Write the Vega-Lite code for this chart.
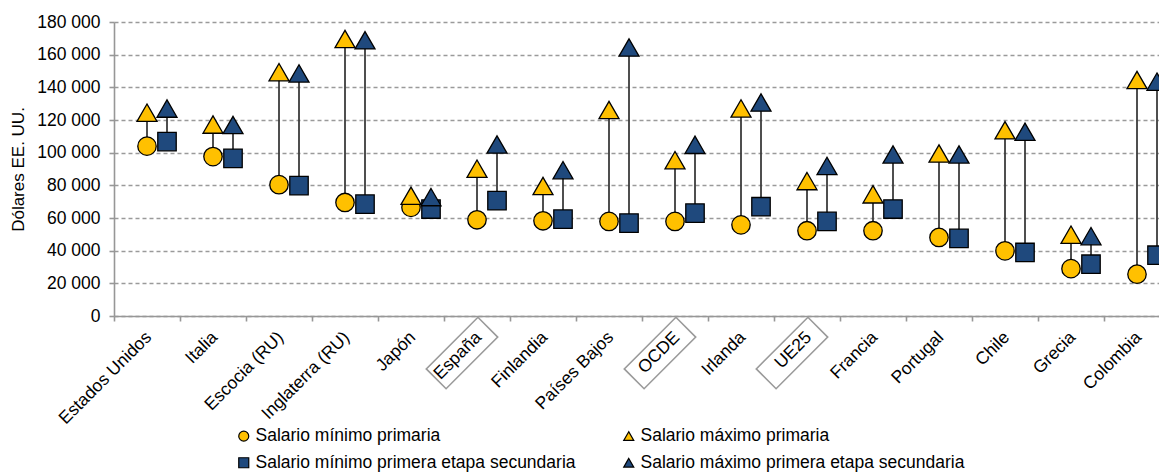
{
  "$schema": "https://vega.github.io/schema/vega-lite/v6.json",
  "width": 1045,
  "height": 294,
  "autosize": "none",
  "padding": {"left": 114, "top": 22, "right": 0, "bottom": 157},
  "config": {
    "locale": {"number": {"decimal": ",", "thousands": " ", "grouping": [3], "currency": ["", ""]}},
    "font": "Liberation Sans",
    "view": {"stroke": null},
    "axis": {
      "labelFont": "Liberation Sans",
      "titleFont": "Liberation Sans",
      "labelColor": "#000000",
      "titleColor": "#000000",
      "labelFontSize": 17.5,
      "titleFontSize": 17,
      "titleFontWeight": "normal",
      "domainColor": "#979797",
      "domainWidth": 1.6,
      "tickColor": "#979797",
      "tickWidth": 1.6,
      "tickSize": 5,
      "gridColor": "#9a9a9a",
      "gridWidth": 1.4,
      "gridDash": [4, 3],
      "gridOpacity": 1
    },
    "legend": {
      "labelFont": "Liberation Sans",
      "labelFontSize": 17.5,
      "labelColor": "#000000",
      "labelLimit": 0,
      "symbolStrokeColor": "#000000",
      "symbolStrokeWidth": 1.2
    }
  },
  "data": {
    "values": [
      {"pais": "Estados Unidos", "nivel": "primaria", "serie": "Salario mínimo primaria", "valor": 104000},
      {"pais": "Estados Unidos", "nivel": "primaria", "serie": "Salario máximo primaria", "valor": 124500},
      {"pais": "Estados Unidos", "nivel": "secundaria", "serie": "Salario mínimo primera etapa secundaria", "valor": 106800},
      {"pais": "Estados Unidos", "nivel": "secundaria", "serie": "Salario máximo primera etapa secundaria", "valor": 127000},
      {"pais": "Italia", "nivel": "primaria", "serie": "Salario mínimo primaria", "valor": 97600},
      {"pais": "Italia", "nivel": "primaria", "serie": "Salario máximo primaria", "valor": 117200},
      {"pais": "Italia", "nivel": "secundaria", "serie": "Salario mínimo primera etapa secundaria", "valor": 96500},
      {"pais": "Italia", "nivel": "secundaria", "serie": "Salario máximo primera etapa secundaria", "valor": 116900},
      {"pais": "Escocia (RU)", "nivel": "primaria", "serie": "Salario mínimo primaria", "valor": 80400},
      {"pais": "Escocia (RU)", "nivel": "primaria", "serie": "Salario máximo primaria", "valor": 149300},
      {"pais": "Escocia (RU)", "nivel": "secundaria", "serie": "Salario mínimo primera etapa secundaria", "valor": 79800},
      {"pais": "Escocia (RU)", "nivel": "secundaria", "serie": "Salario máximo primera etapa secundaria", "valor": 148500},
      {"pais": "Inglaterra (RU)", "nivel": "primaria", "serie": "Salario mínimo primaria", "valor": 69500},
      {"pais": "Inglaterra (RU)", "nivel": "primaria", "serie": "Salario máximo primaria", "valor": 169600},
      {"pais": "Inglaterra (RU)", "nivel": "secundaria", "serie": "Salario mínimo primera etapa secundaria", "valor": 68500},
      {"pais": "Inglaterra (RU)", "nivel": "secundaria", "serie": "Salario máximo primera etapa secundaria", "valor": 168800},
      {"pais": "Japón", "nivel": "primaria", "serie": "Salario mínimo primaria", "valor": 66500},
      {"pais": "Japón", "nivel": "primaria", "serie": "Salario máximo primaria", "valor": 73600},
      {"pais": "Japón", "nivel": "secundaria", "serie": "Salario mínimo primera etapa secundaria", "valor": 65500},
      {"pais": "Japón", "nivel": "secundaria", "serie": "Salario máximo primera etapa secundaria", "valor": 72800},
      {"pais": "España", "nivel": "primaria", "serie": "Salario mínimo primaria", "valor": 58900},
      {"pais": "España", "nivel": "primaria", "serie": "Salario máximo primaria", "valor": 90200},
      {"pais": "España", "nivel": "secundaria", "serie": "Salario mínimo primera etapa secundaria", "valor": 70600},
      {"pais": "España", "nivel": "secundaria", "serie": "Salario máximo primera etapa secundaria", "valor": 105000},
      {"pais": "Finlandia", "nivel": "primaria", "serie": "Salario mínimo primaria", "valor": 58300},
      {"pais": "Finlandia", "nivel": "primaria", "serie": "Salario máximo primaria", "valor": 79600},
      {"pais": "Finlandia", "nivel": "secundaria", "serie": "Salario mínimo primera etapa secundaria", "valor": 59300},
      {"pais": "Finlandia", "nivel": "secundaria", "serie": "Salario máximo primera etapa secundaria", "valor": 89300},
      {"pais": "Países Bajos", "nivel": "primaria", "serie": "Salario mínimo primaria", "valor": 57900},
      {"pais": "Países Bajos", "nivel": "primaria", "serie": "Salario máximo primaria", "valor": 126100},
      {"pais": "Países Bajos", "nivel": "secundaria", "serie": "Salario mínimo primera etapa secundaria", "valor": 56900},
      {"pais": "Países Bajos", "nivel": "secundaria", "serie": "Salario máximo primera etapa secundaria", "valor": 164400},
      {"pais": "OCDE", "nivel": "primaria", "serie": "Salario mínimo primaria", "valor": 57900},
      {"pais": "OCDE", "nivel": "primaria", "serie": "Salario máximo primaria", "valor": 95400},
      {"pais": "OCDE", "nivel": "secundaria", "serie": "Salario mínimo primera etapa secundaria", "valor": 63000},
      {"pais": "OCDE", "nivel": "secundaria", "serie": "Salario máximo primera etapa secundaria", "valor": 104800},
      {"pais": "Irlanda", "nivel": "primaria", "serie": "Salario mínimo primaria", "valor": 55800},
      {"pais": "Irlanda", "nivel": "primaria", "serie": "Salario máximo primaria", "valor": 127100},
      {"pais": "Irlanda", "nivel": "secundaria", "serie": "Salario mínimo primera etapa secundaria", "valor": 66900},
      {"pais": "Irlanda", "nivel": "secundaria", "serie": "Salario máximo primera etapa secundaria", "valor": 130700},
      {"pais": "UE25", "nivel": "primaria", "serie": "Salario mínimo primaria", "valor": 52200},
      {"pais": "UE25", "nivel": "primaria", "serie": "Salario máximo primaria", "valor": 82600},
      {"pais": "UE25", "nivel": "secundaria", "serie": "Salario mínimo primera etapa secundaria", "valor": 57900},
      {"pais": "UE25", "nivel": "secundaria", "serie": "Salario máximo primera etapa secundaria", "valor": 91900},
      {"pais": "Francia", "nivel": "primaria", "serie": "Salario mínimo primaria", "valor": 52200},
      {"pais": "Francia", "nivel": "primaria", "serie": "Salario máximo primaria", "valor": 74500},
      {"pais": "Francia", "nivel": "secundaria", "serie": "Salario mínimo primera etapa secundaria", "valor": 65500},
      {"pais": "Francia", "nivel": "secundaria", "serie": "Salario máximo primera etapa secundaria", "valor": 98900},
      {"pais": "Portugal", "nivel": "primaria", "serie": "Salario mínimo primaria", "valor": 48100},
      {"pais": "Portugal", "nivel": "primaria", "serie": "Salario máximo primaria", "valor": 99500},
      {"pais": "Portugal", "nivel": "secundaria", "serie": "Salario mínimo primera etapa secundaria", "valor": 47500},
      {"pais": "Portugal", "nivel": "secundaria", "serie": "Salario máximo primera etapa secundaria", "valor": 98900},
      {"pais": "Chile", "nivel": "primaria", "serie": "Salario mínimo primaria", "valor": 39900},
      {"pais": "Chile", "nivel": "primaria", "serie": "Salario máximo primaria", "valor": 113700},
      {"pais": "Chile", "nivel": "secundaria", "serie": "Salario mínimo primera etapa secundaria", "valor": 38900},
      {"pais": "Chile", "nivel": "secundaria", "serie": "Salario máximo primera etapa secundaria", "valor": 112800},
      {"pais": "Grecia", "nivel": "primaria", "serie": "Salario mínimo primaria", "valor": 29000},
      {"pais": "Grecia", "nivel": "primaria", "serie": "Salario máximo primaria", "valor": 49800},
      {"pais": "Grecia", "nivel": "secundaria", "serie": "Salario mínimo primera etapa secundaria", "valor": 31700},
      {"pais": "Grecia", "nivel": "secundaria", "serie": "Salario máximo primera etapa secundaria", "valor": 48900},
      {"pais": "Colombia", "nivel": "primaria", "serie": "Salario mínimo primaria", "valor": 25600},
      {"pais": "Colombia", "nivel": "primaria", "serie": "Salario máximo primaria", "valor": 144500},
      {"pais": "Colombia", "nivel": "secundaria", "serie": "Salario mínimo primera etapa secundaria", "valor": 37200},
      {"pais": "Colombia", "nivel": "secundaria", "serie": "Salario máximo primera etapa secundaria", "valor": 143500}
    ]
  },
  "encoding": {
    "x": {
      "field": "pais",
      "type": "nominal",
      "sort": null,
      "scale": {"range": [0, 1056], "paddingInner": 0, "paddingOuter": 0},
      "axis": {
        "title": null,
        "labelAngle": -45,
        "tickBand": "extent",
        "labelPadding": 7,
        "labelOffset": -5,
        "labelOverlap": false
      }
    },
    "y": {
      "field": "valor",
      "type": "quantitative",
      "scale": {"domain": [0, 180000], "nice": false, "zero": true},
      "axis": {
        "title": "Dólares EE. UU.",
        "values": [0, 20000, 40000, 60000, 80000, 100000, 120000, 140000, 160000, 180000],
        "tickCount": 12,
        "format": ",d",
        "labelOverlap": false,
        "titlePadding": 9,
        "labelPadding": 9
      }
    }
  },
  "layer": [
    {
      "mark": {"type": "rule", "color": "#3c3c3c", "strokeWidth": 1.8},
      "encoding": {
        "xOffset": {"field": "nivel", "type": "nominal", "scale": {"type": "point", "padding": 0, "domain": ["primaria", "secundaria"], "range": [33, 53]}},
        "y": {"aggregate": "min", "field": "valor", "type": "quantitative"},
        "y2": {"aggregate": "max", "field": "valor"}
      }
    },
    {
      "transform": [{"filter": {"field": "serie", "oneOf": ["Salario mínimo primaria", "Salario mínimo primera etapa secundaria"]}}],
      "mark": {"type": "point", "filled": true, "stroke": "#000000", "strokeWidth": 1.3, "opacity": 1, "size": 340},
      "encoding": {
        "xOffset": {"field": "nivel", "type": "nominal"},
        "color": {
          "field": "serie",
          "type": "nominal",
          "scale": {
            "domain": ["Salario mínimo primaria", "Salario máximo primaria", "Salario mínimo primera etapa secundaria", "Salario máximo primera etapa secundaria"],
            "range": ["#FFC000", "#FFC000", "#1F497D", "#1F497D"]
          },
          "legend": {
            "title": null,
            "orient": "none",
            "direction": "horizontal",
            "columns": 2,
            "columnPadding": 44,
            "rowPadding": 8,
            "legendX": 121,
            "legendY": 405,
            "symbolSize": 100,
            "labelOffset": 3
          }
        },
        "shape": {
          "field": "serie",
          "type": "nominal",
          "scale": {
            "domain": ["Salario mínimo primaria", "Salario máximo primaria", "Salario mínimo primera etapa secundaria", "Salario máximo primera etapa secundaria"],
            "range": ["circle", "triangle-up", "square", "triangle-up"]
          }
        }
      }
    },
    {
      "transform": [{"filter": {"field": "serie", "oneOf": ["Salario máximo primaria", "Salario máximo primera etapa secundaria"]}}],
      "mark": {"type": "point", "filled": true, "stroke": "#000000", "strokeWidth": 1.3, "opacity": 1, "size": 400},
      "encoding": {
        "xOffset": {"field": "nivel", "type": "nominal"},
        "color": {"field": "serie", "type": "nominal"},
        "shape": {"field": "serie", "type": "nominal"}
      }
    },
    {
      "transform": [{"filter": {"field": "serie", "equal": "Salario mínimo primaria"}}, {"filter": {"field": "pais", "oneOf": ["España", "OCDE", "UE25"]}}],
      "mark": {
        "type": "point",
        "shape": "M0.893,-0.398L0.398,-0.893L-0.893,0.398L-0.398,0.893Z",
        "size": 6400,
        "filled": false,
        "stroke": "#9a9a9a",
        "strokeWidth": 1.6,
        "opacity": 1,
        "xOffset": -15,
        "yOffset": 37
      },
      "encoding": {
        "y": {"datum": 0}
      }
    }
  ]
}
